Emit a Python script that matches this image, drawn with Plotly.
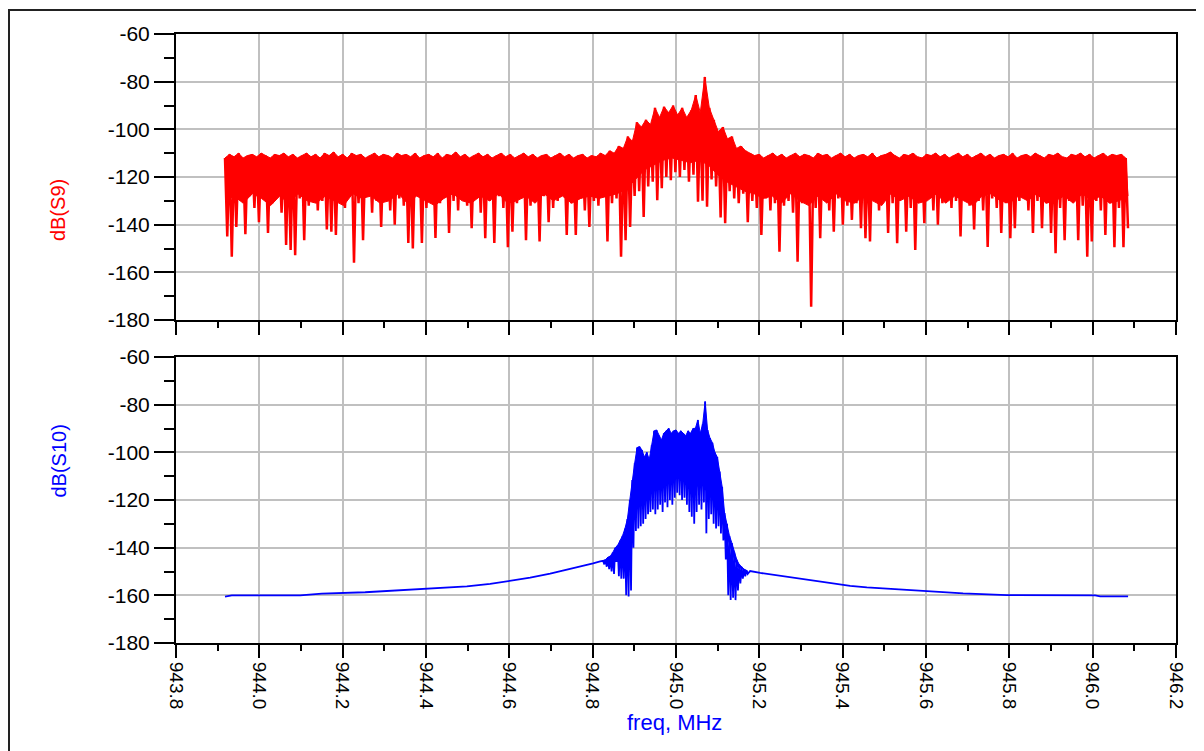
import numpy as np
import plotly.graph_objects as go

# ---------------- data ----------------
# dB(S9): uniform frequency sweep, alternating local maxima / minima
S9_START, S9_STOP = 943.9176, 946.0848
s9_peaks = [
    -112, -110.5, -111.5, -110, -112, -111, -110.5, -111.5, -110, -111,
    -112, -110.5, -111, -110, -111.5, -110.5, -112, -111, -110, -111.5,
    -110.5, -112, -110, -111, -109.5, -111.5, -110.5, -112, -110, -111,
    -110.5, -112, -111, -110, -111.5, -110.5, -111, -112, -110, -111,
    -110.5, -111.5, -110, -112, -111, -110.5, -111.5, -110, -112, -110.5,
    -111, -109.5, -111.5, -110.5, -112, -111, -110, -111.5, -110.5, -112,
    -111, -110, -111.5, -110.5, -112, -111, -110, -111.5, -110.5, -112,
    -111, -110.5, -112, -111, -110, -111.5, -110.5, -112, -111, -110.5,
    -112, -111, -111.5, -110, -111, -109, -110, -107, -108, -103,
    -105, -97, -99, -96, -98, -91, -95, -90.5, -93, -90,
    -94, -91, -95, -92, -85.6, -93, -78, -91, -96, -101,
    -99, -104, -103, -108, -107, -109, -110, -111, -110.5, -112,
    -111, -110, -111.5, -110.5, -112, -111, -110, -111.5, -110.5, -111,
    -112, -110, -111, -110.5, -112, -111, -110, -111.5, -110.5, -112,
    -111, -110.5, -111.5, -110, -112, -111, -110.5, -109.5, -111, -112,
    -110.5, -111, -110, -111.5, -112, -110.5, -111, -110, -111.5, -110.5,
    -112, -111, -110, -111.5, -110.5, -112, -111, -110, -111.5, -110.5,
    -112, -111, -110.5, -111.5, -110, -112, -111, -110.5, -111.5, -110,
    -111, -112, -110.5, -111, -110, -111.5, -112, -110.5, -111, -110,
    -111.5, -110.5, -112, -111, -110, -111.5, -110.5, -111, -110.5, -112,
]
s9_troughs = [
    -145, -153.4, -141, -130, -144, -128, -133, -139, -127, -143.5,
    -131, -126, -135, -148.5, -150.6, -152.8, -129, -146.5, -132, -127,
    -134, -130, -142, -143, -144.3, -129, -133, -127, -156, -131,
    -146.5, -128, -135, -130, -141, -127, -134, -140, -129, -132,
    -147.7, -150, -128, -147.7, -133, -129, -145.6, -131, -127, -143.5,
    -130, -134, -128, -132, -141.5, -129, -135, -145.7, -130, -147.7,
    -128, -133, -149.5, -143, -131, -129, -146.5, -132, -130, -147,
    -128, -139, -133, -130, -127, -144.3, -131, -144.3, -129, -134,
    -141, -130, -132, -128, -147, -131, -129, -153.5, -146.5, -141,
    -128, -126, -136.8, -124, -122, -129.7, -124.7, -120, -121.3, -118,
    -120, -117, -122, -119, -130.4, -130, -132.5, -121, -124, -137,
    -139.4, -126, -129, -131, -127, -139, -130, -133, -144.3, -129,
    -134, -131, -151.3, -132, -130, -135, -155.5, -131, -128, -174.4,
    -133, -145.7, -130, -134, -143, -129, -140, -132, -138, -131,
    -141.5, -145.7, -147, -130, -134, -128, -143.5, -131, -147.8, -129,
    -143, -133, -150.6, -130, -139.4, -128, -134, -140, -131, -129,
    -133, -130, -145, -128, -132, -142, -130, -134, -149.4, -129,
    -133, -143.5, -131, -145.7, -141.5, -130, -128, -134, -143.5, -130,
    -141.5, -131, -143.5, -152, -133, -146.5, -130, -128, -146.5, -132,
    -153.4, -147, -130, -134, -144.3, -131, -149.5, -133, -149.5, -141.5,
]
# lower edge of the solid (densely overplotted) part of dB(S9)
s9_solid_floor = [
    -130, -128, -131, -127, -129, -132, -128, -131, -127, -130,
    -131, -128, -130, -132, -127, -129, -128, -131, -130, -127,
    -131, -128, -130, -132, -129, -127, -130, -131, -128, -130,
    -127, -131, -130, -128, -131, -127, -130, -128, -131, -129,
    -128, -129, -128, -127, -125, -121, -117, -115, -113, -112,
    -113, -114, -113, -115, -119, -122, -124, -126, -127, -129,
    -128, -131, -127, -130, -132, -128, -131, -127, -130, -131,
    -128, -130, -132, -127, -130, -128, -131, -130, -127, -131,
    -128, -130, -132, -128, -127, -130, -131, -128, -130, -127,
    -131, -130, -128, -131, -127, -130, -128, -131, -130, -128,
]

# dB(S10): smooth skirts + dense modulated band
s10_left_freq = [943.9176, 943.934, 944.098, 944.150, 944.254, 944.326, 944.402,
                 944.498, 944.554, 944.602, 944.650, 944.698, 944.746, 944.782,
                 944.801, 944.818]
s10_left_db = [-160.5, -160.0, -160.0, -159.3, -158.7, -157.9, -157.2,
               -156.2, -155.2, -154.0, -152.6, -150.9, -149.0, -147.4,
               -146.6, -145.8]
S10_BAND_START, S10_BAND_STOP = 944.825, 945.172
s10_band_peaks = [
    -145.5, -145, -144, -143.5, -142, -140, -139, -137, -135, -132,
    -128, -120, -111.6, -104.6, -98, -97.6, -99, -102, -100, -103,
    -97, -91, -90.6, -93, -94.8, -92, -91, -89.9, -92, -91,
    -90.6, -92, -91, -92, -93, -91, -92, -90, -89.9, -86.4,
    -92, -88, -78.7, -90.6, -94, -96, -100, -102, -108, -114.4,
    -125.5, -130, -135, -138, -142, -145, -147, -148, -149, -149.5,
]
s10_band_troughs = [
    -147, -148, -149, -150, -151, -146, -152, -153, -153, -160,
    -160.5, -158, -140, -133, -132, -131, -130, -128, -126, -125,
    -124, -126, -124, -122, -125, -121, -123, -120, -122, -119,
    -117, -118, -120, -119, -122, -125, -127, -130, -125, -122,
    -124, -121, -134, -128, -126, -130, -132, -131, -134, -137,
    -145, -160, -162, -161, -162, -158, -155, -153, -152, -151,
]
s10_band_floor = [
    -146, -147, -145, -143, -141, -137, -128, -122, -119, -117,
    -116, -114, -114, -112, -111, -110, -112, -114, -116, -114,
    -114, -117, -120, -122, -125, -136, -143, -148, -149, -150,
]
s10_right_freq = [945.178, 945.202, 945.250, 945.298, 945.346, 945.382, 945.418,
                  945.458, 945.506, 945.557, 945.617, 945.689, 945.794, 946.006,
                  946.018, 946.085]
s10_right_db = [-149.8, -150.6, -151.8, -153.0, -154.2, -155.2, -156.0,
                -156.7, -157.2, -157.8, -158.5, -159.2, -159.9, -160.0,
                -160.4, -160.4]

x_tick_vals = [943.8, 944.0, 944.2, 944.4, 944.6, 944.8, 945.0, 945.2, 945.4, 945.6, 945.8, 946.0, 946.2]
x_tick_text = ["943.8", "944.0", "944.2", "944.4", "944.6", "944.8", "945.0", "945.2",
               "945.4", "945.6", "945.8", "946.0", "946.2"]
y_tick_vals = [-180, -160, -140, -120, -100, -80, -60]
y_tick_text = ["-180", "-160", "-140", "-120", "-100", "-80", "-60"]

# ---------------- build series ----------------
s9_db = [v for pair in zip(s9_peaks, s9_troughs) for v in pair]
s9_freq = np.linspace(S9_START, S9_STOP, len(s9_db))
s9_peak_freq = s9_freq[0::2][:len(s9_peaks)]
s9_floor_freq = np.linspace(S9_START, S9_STOP, len(s9_solid_floor))

band_db = [v for pair in zip(s10_band_peaks, s10_band_troughs) for v in pair]
band_freq = np.linspace(S10_BAND_START, S10_BAND_STOP, len(band_db))
band_peak_freq = band_freq[0::2][:len(s10_band_peaks)]
band_floor_freq = np.linspace(S10_BAND_START, S10_BAND_STOP, len(s10_band_floor))
s10_freq = list(s10_left_freq) + list(band_freq) + list(s10_right_freq)
s10_db = list(s10_left_db) + band_db + list(s10_right_db)

RED = "#ff0000"
BLUE = "#0000ff"
GRID = "#c0c0c0"
FONT = "Liberation Sans, Arial, sans-serif"

fig = go.Figure()
# solid cores of the overplotted noise
fig.add_trace(go.Scatter(
    x=list(s9_peak_freq) + list(s9_floor_freq[::-1]),
    y=list(s9_peaks) + list(s9_solid_floor[::-1]),
    mode="lines", fill="toself", fillcolor=RED, line=dict(color=RED, width=1),
    xaxis="x", yaxis="y", showlegend=False, hoverinfo="skip"))
fig.add_trace(go.Scatter(x=s9_freq, y=s9_db, mode="lines",
                         line=dict(color=RED, width=2.5), xaxis="x", yaxis="y",
                         showlegend=False, hoverinfo="skip"))
fig.add_trace(go.Scatter(
    x=list(band_peak_freq) + list(band_floor_freq[::-1]),
    y=list(s10_band_peaks) + list(s10_band_floor[::-1]),
    mode="lines", fill="toself", fillcolor=BLUE, line=dict(color=BLUE, width=1),
    xaxis="x2", yaxis="y2", showlegend=False, hoverinfo="skip"))
fig.add_trace(go.Scatter(x=s10_freq, y=s10_db, mode="lines",
                         line=dict(color=BLUE, width=1.8), xaxis="x2", yaxis="y2",
                         showlegend=False, hoverinfo="skip"))

# page body has an 8px margin: the figure is offset by 8px in the screenshot
OFF = 8
W, H = 1204 - OFF, 751 - OFF
PL, PR, PT, PB = 176, 1176, 34, 643  # plot area in page pixels
L, T = PL - OFF, PT - OFF
R = W - (PR - OFF)
B = H - (PB - OFF)
ph = PB - PT
top_dom = [(PB - 320) / ph, 1.0]
bot_dom = [0.0, (PB - 357) / ph]


def xaxis_cfg(show_labels, anchor):
    return dict(
        domain=[0, 1], anchor=anchor, range=[943.8, 946.2],
        tickvals=x_tick_vals, ticktext=x_tick_text, showticklabels=show_labels,
        tickangle=90, ticks="outside", ticklen=13, tickwidth=2, tickcolor="black",
        minor=dict(dtick=0.1, tick0=943.8, ticks="outside", ticklen=6, tickwidth=2,
                   tickcolor="black", showgrid=False),
        showgrid=True, gridcolor=GRID, gridwidth=2,
        showline=True, linecolor="black", linewidth=2, mirror=True,
        zeroline=False, tickfont=dict(family=FONT, size=19, color="black"),
    )


def yaxis_cfg(domain, anchor):
    return dict(
        domain=domain, anchor=anchor, range=[-180, -60],
        tickvals=y_tick_vals, ticktext=y_tick_text,
        ticks="outside", ticklen=20, tickwidth=2, tickcolor="black",
        minor=dict(dtick=10, tick0=-180, ticks="outside", ticklen=10, tickwidth=2,
                   tickcolor="black", showgrid=False),
        showgrid=True, gridcolor=GRID, gridwidth=2,
        showline=True, linecolor="black", linewidth=2, mirror=True,
        zeroline=False, tickfont=dict(family=FONT, size=21, color="black"),
    )


fig.update_layout(
    width=W, height=H,
    margin=dict(l=L, r=R, t=T, b=B, autoexpand=False),
    paper_bgcolor="white", plot_bgcolor="white",
    xaxis=xaxis_cfg(False, "y"),
    yaxis=yaxis_cfg(top_dom, "x"),
    xaxis2=xaxis_cfg(True, "y2"),
    yaxis2=yaxis_cfg(bot_dom, "x2"),
    showlegend=False,
)


def px_x(px):
    return (px - PL) / (PR - PL)


def px_y(py):
    return (PB - py) / ph


fig.add_annotation(text="dB(S9)", x=px_x(45), y=px_y(177), xref="paper", yref="paper",
                   showarrow=False, textangle=-90,
                   font=dict(family=FONT, size=20, color=RED))
fig.add_annotation(text="dB(S10)", x=px_x(45), y=px_y(500), xref="paper", yref="paper",
                   showarrow=False, textangle=-90,
                   font=dict(family=FONT, size=20, color=BLUE))
fig.add_annotation(text="freq, MHz", x=px_x(674), y=px_y(737), xref="paper", yref="paper",
                   showarrow=False, font=dict(family=FONT, size=22, color=BLUE))

# outer frame of the original display window
fig.add_shape(type="rect", xref="paper", yref="paper",
              x0=px_x(9), x1=px_x(1220), y0=px_y(770), y1=px_y(10),
              line=dict(color="#222222", width=2), fillcolor="rgba(0,0,0,0)", layer="below")

fig.write_html("out.html")
